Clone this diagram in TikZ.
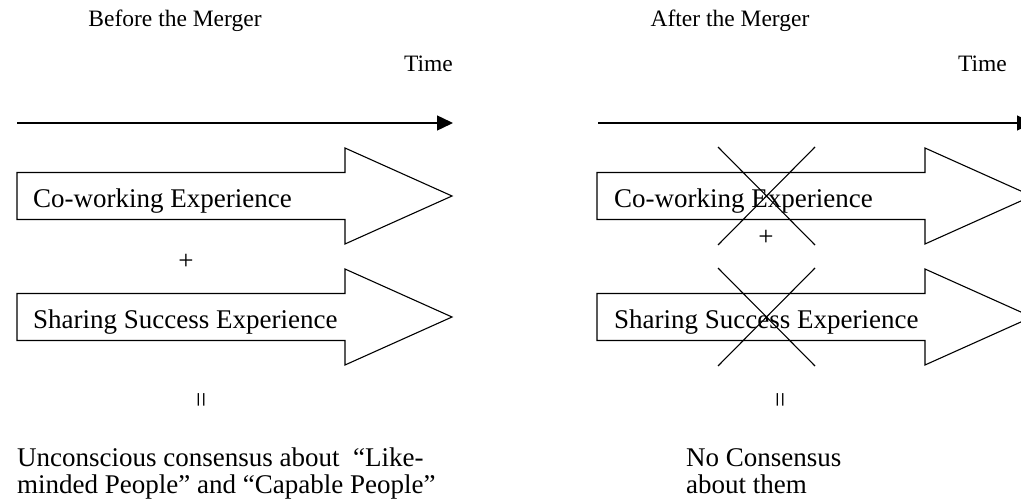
\documentclass[tikz,border=0pt]{standalone}
\usepackage{fontspec}
\setmainfont{Liberation Serif}
\usetikzlibrary{positioning, arrows.meta}

\begin{document}
\begin{tikzpicture}[x=1pt,y=-1pt,
  txt/.style={font=\fontsize{27}{27}\selectfont, inner sep=0pt},
  head/.style={font=\fontsize{23.5}{27}\selectfont, inner sep=0pt},
  timeline/.style={-{Triangle[length=16pt,width=15pt]}, line width=1.4pt},
  bigarrow/.pic={\draw[line width=1.1pt] (0,-23.5) -- (328,-23.5) -- (328,-48) -- (435,0)
    -- (328,48) -- (328,23.5) -- (0,23.5) -- cycle;},
  cross/.pic={\draw[line width=1.1pt] (-48.5,-49) -- (48.5,49) (-48.5,49) -- (48.5,-49);}]
  \useasboundingbox (0,0) rectangle (1021,503);
  \clip (0,0) rectangle (1021,503);

  % before
  \node[head] (before) at (175,21) {Before the Merger};
  \node[head, anchor=east] (time1) at (453,64) {Time};
  \coordinate (t1s) at (17,123);
  \coordinate (t1e) at (453,123);
  \draw[timeline] (t1s) -- (t1e);
  \pic at (17,196) {bigarrow};
  \pic at (17,317) {bigarrow};
  \node[txt, anchor=base west] (cowork1) at (33,207) {Co-working Experience};
  \node[txt, anchor=base west] (share1) at (33,328) {Sharing Success Experience};
  \node[txt] (plus1) at (186,262) {+};
  \node[txt, rotate=90] (eq1) at (204,400) {=};
  \node[txt, anchor=north west, align=left] (res1) at (17,448)
    {Unconscious consensus about \ “Like-\\minded People” and “Capable People”};

  % after
  \node[head] (after) at (730,21) {After the Merger};
  \node[head, anchor=east] (time2) at (1007,64) {Time};
  \coordinate (t2s) at (598,123);
  \coordinate (t2e) at (1033,123);
  \draw[timeline] (t2s) -- (t2e);
  \pic at (597,196) {bigarrow};
  \pic at (597,317) {bigarrow};
  \node[txt, anchor=base west] (cowork2) at (614,207) {Co-working Experience};
  \node[txt, anchor=base west] (share2) at (614,328) {Sharing Success Experience};
  \node[txt] (plus2) at (766,238) {+};
  \node[txt, rotate=90] (eq2) at (783,400) {=};
  \pic at (766.5,196) {cross};
  \pic at (766.5,317) {cross};
  \node[txt, anchor=north west, align=left] (res2) at (686,448)
    {No Consensus\\about them};
\end{tikzpicture}
\end{document}
